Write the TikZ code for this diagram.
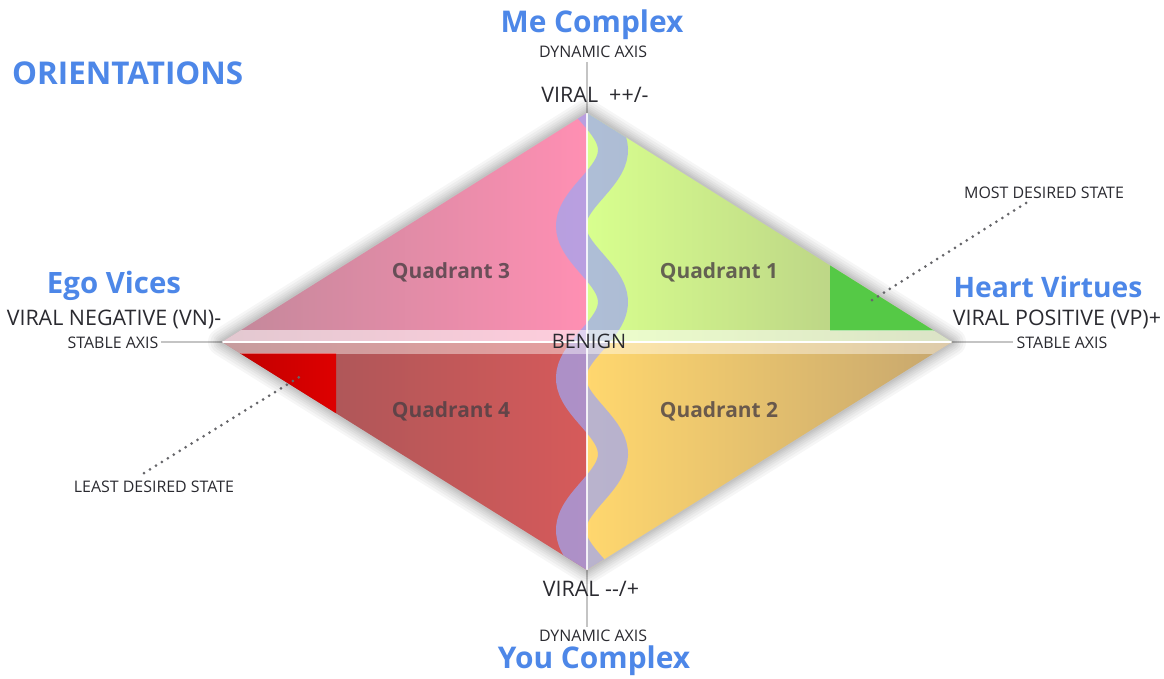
\documentclass[tikz,border=0pt]{standalone}
\usepackage{fontspec}
\setmainfont{Open Sans}
\definecolor{ttl}{HTML}{4D87E8}
\definecolor{lbl}{HTML}{2A2A30}
\definecolor{axc}{HTML}{C4C4C4}
\definecolor{qtx}{HTML}{4A3F44}
\definecolor{qAl}{HTML}{C2889A}
\definecolor{qAr}{HTML}{FF8FB3}
\definecolor{qBl}{HTML}{D8FF8E}
\definecolor{qBr}{HTML}{B0C283}
\definecolor{qCl}{HTML}{9E5558}
\definecolor{qCr}{HTML}{D65A5A}
\definecolor{qDl}{HTML}{FFD76E}
\definecolor{qDr}{HTML}{C6A66E}
\definecolor{mostc}{HTML}{55C946}
\definecolor{leastc}{HTML}{DD0000}
\definecolor{ribc}{HTML}{9FA6F2}
\definecolor{dotc}{HTML}{66666A}
\tikzset{
  title/.style={text=ttl, font=\bfseries\fontsize{30}{34}\selectfont, anchor=base, inner sep=0pt},
  side/.style={text=ttl, font=\bfseries\fontsize{29.5}{32}\selectfont, anchor=base, inner sep=0pt},
  viral/.style={text=lbl, font=\fontsize{21.5}{24}\selectfont, anchor=base, inner sep=0pt},
  small/.style={text=lbl, font=\fontsize{16}{18}\selectfont, anchor=base, inner sep=0pt},
  quad/.style={text=qtx, text opacity=0.8, font=\bfseries\fontsize{21}{24}\selectfont, anchor=base, inner sep=0pt},
  axisline/.style={draw=axc, line width=1.6bp},
  leader/.style={draw=dotc, line width=3bp, line cap=round, dash pattern=on 0pt off 7bp},
}
\begin{document}
\begin{tikzpicture}[x=1bp,y=-1bp]
\useasboundingbox (0,0) rectangle (1164,679);
\fill[white] (0,0) rectangle (1164,679);
% key points
\coordinate (T) at (587,113);
\coordinate (B) at (587,570);
\coordinate (L) at (222,342);
\coordinate (R) at (952,342);
\coordinate (C) at (587,342);
\coordinate (dtop) at (587,62);
\coordinate (dbot) at (587,627);
\coordinate (sl) at (161,342);
\coordinate (sr) at (1013,342);
% axis lines
\draw[axisline] (dtop) -- (T);
\draw[axisline] (B) -- (dbot);
\draw[axisline] (sl) -- (L);
\draw[axisline] (R) -- (sr);
% soft shadow
\foreach \w in {28,23,18,14,10,7,4}
  \draw[black, opacity=0.035, line width=\w bp, line join=round] (T) -- (R) -- (B) -- (L) -- cycle;
% quadrants
\shade[left color=qAl, right color=qAr] (T) -- (C) -- (L) -- cycle;
\shade[left color=qBl, right color=qBr] (T) -- (R) -- (C) -- cycle;
\shade[left color=qCl, right color=qCr] (L) -- (C) -- (B) -- cycle;
\shade[left color=qDl, right color=qDr] (C) -- (R) -- (B) -- cycle;
\begin{scope}
  \clip (T) -- (R) -- (B) -- (L) -- cycle;
  % desired states
  \fill[mostc] (830,200) rectangle (960,331);
  \shade[left color=leastc!85!black, right color=leastc] (215,353) rectangle (336,430);
  % wave ribbon
  \draw[ribc, opacity=0.72, line width=30bp]
    plot[domain=100:585, samples=120, smooth] ({592+21*cos(deg(2*pi*(\x-150)/152))}, \x);
  % band
  \fill[white, opacity=0.55] (200,330) rectangle (980,342);
  \fill[white, opacity=0.42] (200,342) rectangle (980,354);
  \draw[white, line width=1.4bp] (200,342) -- (980,342);
  % vertical separator
  \draw[white, opacity=0.85, line width=1.3bp] (T) -- (B);
\end{scope}
% texts
\node[title] (me) at (592,33) {Me Complex};
\node[small] (dyntop) at (593,58) {DYNAMIC AXIS};
\node[viral] (vtop) at (595,103) {VIRAL\ \ ++/-};
\node[viral] (vbot) at (591,596) {VIRAL {-}{-}/+};
\node[small] (dynbot) at (593,641) {DYNAMIC AXIS};
\node[title] (you) at (594,668) {You Complex};
\node[title, font=\bfseries\fontsize{31.5}{34}\selectfont, anchor=base west] (orient) at (12,85) {ORIENTATIONS};
\node[side] (ego) at (114,293) {Ego Vices};
\node[viral] (vn) at (114,325) {VIRAL NEGATIVE (VN)-};
\node[small] (stl) at (113,348) {STABLE AXIS};
\node[side, font=\bfseries\fontsize{28.3}{31}\selectfont] (heart) at (1048,297) {Heart Virtues};
\node[viral] (vp) at (1057,325) {VIRAL POSITIVE (VP)+};
\node[small] (str) at (1062,348) {STABLE AXIS};
\node[viral, font=\fontsize{20}{22}\selectfont] (benign) at (589,348) {BENIGN};
\node[quad] (q3) at (451,278) {Quadrant 3};
\node[quad] (q1) at (719,278) {Quadrant 1};
\node[quad] (q4) at (451,417) {Quadrant 4};
\node[quad] (q2) at (719,417) {Quadrant 2};
\node[small] (most) at (1044,199) {MOST DESIRED STATE};
\node[small] (least) at (154,492) {LEAST DESIRED STATE};
% leaders
\coordinate (mostpt) at (869,302);
\coordinate (leastpt) at (301,376);
\draw[leader] (1026,203) -- (mostpt);
\draw[leader] (144,473) -- (leastpt);
\end{tikzpicture}
\end{document}
